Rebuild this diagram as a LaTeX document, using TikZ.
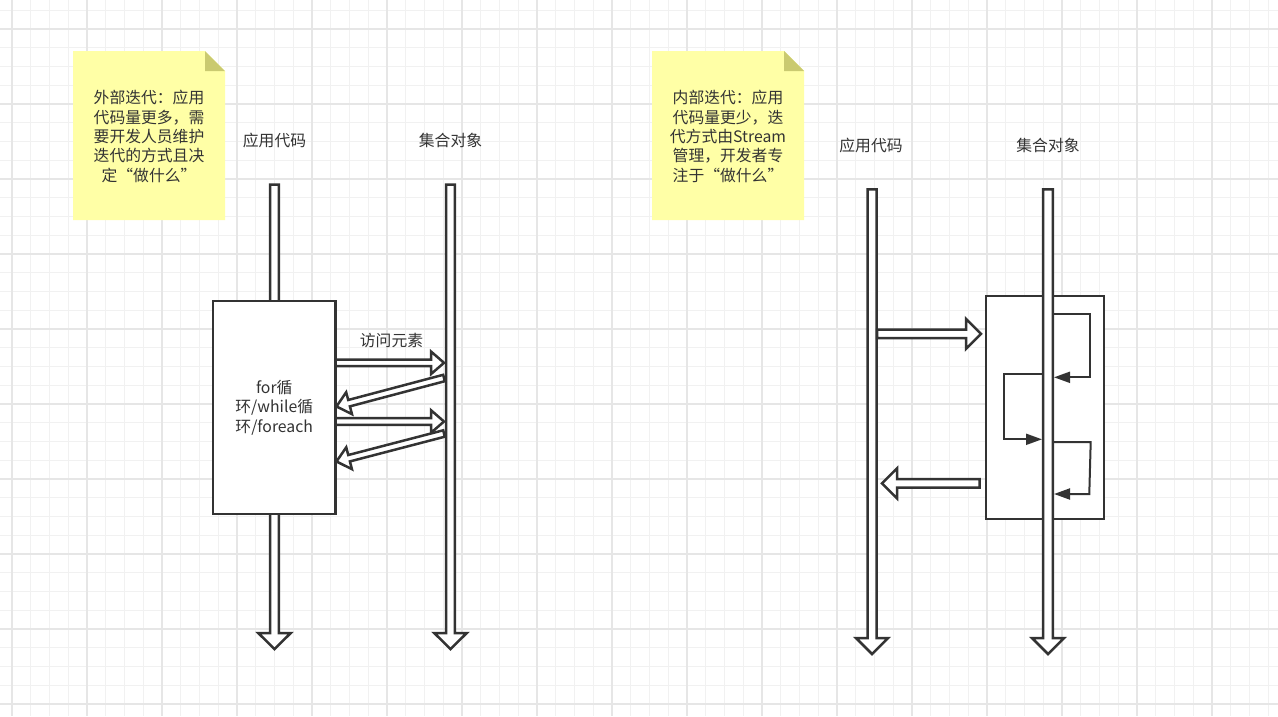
\documentclass[tikz,border=0pt]{standalone}
\usepackage{fontspec}
\newfontfamily\cjk{Noto Sans CJK SC}
\usetikzlibrary{calc,arrows.meta}
\definecolor{ink}{HTML}{333333}
\definecolor{txt}{HTML}{333333}
\definecolor{notefill}{HTML}{FFFFA6}
\definecolor{foldfill}{HTML}{CACA70}
\definecolor{gmin}{HTML}{F1F1F1}
\definecolor{gmaj}{HTML}{E6E6E6}
\newcommand\blockarrow[5]{%
  \coordinate (ba-h) at ($(#2)!#5!(#1)$);
  \draw[blk] ($(#1)!#3!90:(#2)$) -- ($(ba-h)!#3!90:(#2)$) -- ($(ba-h)!#4!90:(#2)$) -- (#2)
    -- ($(ba-h)!#4!-90:(#2)$) -- ($(ba-h)!#3!-90:(#2)$) -- ($(#1)!#3!-90:(#2)$) -- cycle;
}
\tikzset{
  blk/.style={draw=ink, line width=2.5pt, fill=white, line join=miter},
  boxst/.style={draw=ink, line width=2.5pt, fill=white},
  lbl/.style={text=txt, font=\cjk\fontsize{15.8}{19.5}\selectfont, inner sep=0pt},
  notetxt/.style={text=txt, font=\cjk\fontsize{15.8}{19.4}\selectfont, align=center, inner sep=0pt},
  loopln/.style={draw=ink, line width=2pt, -{Triangle[length=16pt,width=11pt]}},
  gridmin/.style={draw=gmin, line width=1pt},
  gridmaj/.style={draw=gmaj, line width=1.3pt},
}
\begin{document}
\begin{tikzpicture}[x=1pt,y=-1pt]
\useasboundingbox (0,0) rectangle (1278,716);
\fill[white] (0,0) rectangle (1278,716);
% grid
\foreach \k in {0,...,67} \draw[gridmin] ({12+18.75*\k},0) -- ++(0,716);
\foreach \k in {0,...,37} \draw[gridmin] (0,{10.25+18.75*\k}) -- ++(1278,0);
\foreach \k in {0,...,16} \draw[gridmaj] ({12+75*\k},0) -- ++(0,716);
\foreach \k in {0,...,9} \draw[gridmaj] (0,{29+75*\k}) -- ++(1278,0);

% ---------- left diagram ----------
\fill[notefill] (73,51) -- (205,51) -- (225,71) -- (225,220) -- (73,220) -- cycle;
\fill[foldfill] (205,51) -- (225,71) -- (205,71) -- cycle;
\node[notetxt] (noteL) at (149,136.5) {外部迭代：应用\\代码量更多，需\\要开发人员维护\\迭代的方式且决\\定“做什么”};

\node[lbl] (appL) at (274.5,140) {应用代码};
\node[lbl] (colL) at (450.5,140) {集合对象};

\coordinate (L1top) at (274.5,184.5);
\coordinate (L1tip) at (274.5,649);
\coordinate (L2top) at (450.5,184.5);
\coordinate (L2tip) at (450.5,649);
\blockarrow{L1top}{L1tip}{4.4pt}{16.3pt}{16pt}
\blockarrow{L2top}{L2tip}{4.4pt}{16.3pt}{16pt}

\node[boxst, minimum width=122.5pt, minimum height=213pt, text=txt, align=center,
  font=\cjk\fontsize{15.8}{19.5}\selectfont] (loopbox) at (274.25,407.5) {for循\\环/while循\\环/foreach};

\node[lbl] (visit) at (391.5,340.7) {访问元素};

\coordinate (a1t) at (335.5,362.8);
\coordinate (a1h) at (444,362.8);
\coordinate (a2t) at (444,378);
\coordinate (a2h) at (336.5,406.5);
\coordinate (a3t) at (335.5,421.5);
\coordinate (a3h) at (444,421.5);
\coordinate (a4t) at (444,433.5);
\coordinate (a4h) at (336.5,461.5);
\blockarrow{a1t}{a1h}{3.3pt}{11.3pt}{13pt}
\blockarrow{a2t}{a2h}{3.3pt}{11.3pt}{13pt}
\blockarrow{a3t}{a3h}{3.3pt}{11.3pt}{13pt}
\blockarrow{a4t}{a4h}{3.3pt}{11.3pt}{13pt}

% ---------- right diagram ----------
\fill[notefill] (652,51) -- (784,51) -- (804,71) -- (804,220) -- (652,220) -- cycle;
\fill[foldfill] (784,51) -- (804,71) -- (784,71) -- cycle;
\node[notetxt] (noteR) at (728,136.5) {内部迭代：应用\\代码量更少，迭\\代方式由Stream\\管理，开发者专\\注于“做什么”};

\node[lbl] (appR) at (871,145) {应用代码};
\node[lbl] (colR) at (1048,145) {集合对象};

\draw[boxst] (986.2,296.2) rectangle (1103.8,518.8);

\coordinate (R1top) at (872,189.3);
\coordinate (R1tip) at (872,654);
\coordinate (R2top) at (1048,189.3);
\coordinate (R2tip) at (1048,654);
\blockarrow{R1top}{R1tip}{4.5pt}{16pt}{16pt}
\blockarrow{R2top}{R2tip}{4.8pt}{16pt}{16pt}

\coordinate (b1t) at (877,333.8);
\coordinate (b1h) at (981,333.8);
\coordinate (b2t) at (979.5,483.3);
\coordinate (b2h) at (882,483.3);
\blockarrow{b1t}{b1h}{4.3pt}{15pt}{15pt}
\blockarrow{b2t}{b2h}{4.3pt}{15pt}{15pt}

\coordinate (l1a) at (1054,314);
\coordinate (l1b) at (1090,314);
\coordinate (l1c) at (1090,377.3);
\coordinate (l1d) at (1054,377.3);
\draw[loopln] (l1a) -- (l1b) -- (l1c) -- (l1d);
\coordinate (l2a) at (1042,374);
\coordinate (l2b) at (1004.3,374);
\coordinate (l2c) at (1004.3,439.3);
\coordinate (l2d) at (1042,439.3);
\draw[loopln] (l2a) -- (l2b) -- (l2c) -- (l2d);
\coordinate (l3a) at (1054,442);
\coordinate (l3b) at (1090.7,442);
\coordinate (l3c) at (1089.3,494);
\coordinate (l3d) at (1054,494);
\draw[loopln] (l3a) -- (l3b) -- (l3c) -- (l3d);
\end{tikzpicture}
\end{document}
